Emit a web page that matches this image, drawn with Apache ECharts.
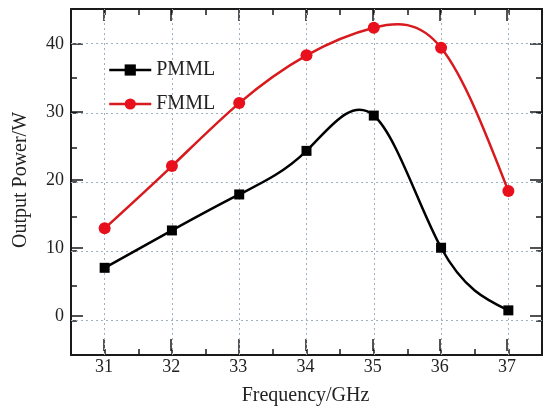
<!DOCTYPE html>
<html><head><meta charset="utf-8">
<script src="https://cdn.jsdelivr.net/npm/echarts@6/dist/echarts.min.js"></script>
<style>html,body{margin:0;padding:0;background:#fff}#c{width:544px;height:411px}</style>
</head><body><div id="c"></div>
<script>
var freqs = [31, 32, 33, 34, 35, 36, 37];
var pmml = [7.6, 13.0, 18.2, 24.5, 29.6, 10.5, 1.45];
var fmml = [13.3, 22.3, 31.4, 38.3, 42.3, 39.4, 18.7];
var yTicks = [0, 10, 20, 30, 40];

var FONT = 'Liberation Serif';
var RED = '#d81a1e';
function pairs(xs, ys){ return xs.map(function(x,i){ return [x, ys[i]]; }); }

// Natural cubic spline slopes (rendering helper: curve passes through data points)
function splineSlopes(xs, ys){
  var n = xs.length, M = new Array(n).fill(0);
  var a = [], b = [], c = [], d = [];
  for (var i = 1; i < n - 1; i++) {
    var h0 = xs[i] - xs[i-1], h1 = xs[i+1] - xs[i];
    a.push(h0); b.push(2*(h0+h1)); c.push(h1);
    d.push(6*((ys[i+1]-ys[i])/h1 - (ys[i]-ys[i-1])/h0));
  }
  var m = b.length;
  for (var k = 1; k < m; k++) { var w = a[k]/b[k-1]; b[k] -= w*c[k-1]; d[k] -= w*d[k-1]; }
  var sol = new Array(m);
  for (var k2 = m - 1; k2 >= 0; k2--) sol[k2] = (d[k2] - (k2 < m-1 ? c[k2]*sol[k2+1] : 0)) / b[k2];
  for (var j = 0; j < m; j++) M[j+1] = sol[j];
  var D = [];
  for (var i2 = 0; i2 < n - 1; i2++) {
    var h = xs[i2+1] - xs[i2];
    D.push((ys[i2+1]-ys[i2])/h - h*(2*M[i2] + M[i2+1])/6);
  }
  var hl = xs[n-1] - xs[n-2];
  D.push((ys[n-1]-ys[n-2])/hl + hl*(M[n-2] + 2*M[n-1])/6);
  return D;
}

function curveSeries(xs, ys, color){
  var D = splineSlopes(xs, ys);
  return {
    type:'custom', xAxisIndex:0, yAxisIndex:0, silent:true, z:2,
    data:[[xs[0], ys[0]]], clip:true,
    renderItem:function(params, api){
      var p0 = api.coord([xs[0], ys[0]]);
      var path = 'M' + p0[0] + ' ' + p0[1];
      for (var i = 0; i < xs.length - 1; i++) {
        var h = xs[i+1] - xs[i];
        var c1 = api.coord([xs[i] + h/3, ys[i] + D[i]*h/3]);
        var c2 = api.coord([xs[i+1] - h/3, ys[i+1] - D[i+1]*h/3]);
        var p1 = api.coord([xs[i+1], ys[i+1]]);
        path += ' C' + c1[0] + ' ' + c1[1] + ' ' + c2[0] + ' ' + c2[1] + ' ' + p1[0] + ' ' + p1[1];
      }
      return {type:'path', shape:{pathData:path},
        style:{fill:'none', stroke:color, lineWidth:2.5}};
    }
  };
}

var chart = echarts.init(document.getElementById('c'), null, {renderer:'canvas'});
var frameAxis = function(pos, min, max, interval){
  return {
    type:'value', gridIndex:0, position:pos, min:min, max:max, interval:interval,
    axisLine:{show:true, onZero:false, lineStyle:{color:'#1a1a1a', width:2}},
    axisTick:{show:true, inside:true, length:6, lineStyle:{color:'#1a1a1a', width:1.5}},
    axisLabel:{show:false}, splitLine:{show:false}
  };
};
var majorAxis = function(pos, min, max, interval, offset, showLabel, extra){
  var a = {
    type:'value', gridIndex:1, position:pos, min:min, max:max, interval:interval, offset:offset,
    axisLine:{show:false, onZero:false},
    axisTick:{show:true, inside:true, length:12, lineStyle:{color:'#1a1a1a', width:1.5}},
    axisLabel:{show:showLabel, fontFamily:FONT, fontSize:18, color:'#222', margin:7},
    splitLine:{show:false}
  };
  for (var k in extra) a[k] = extra[k];
  return a;
};
var gridMarks = freqs.map(function(f){ return {xAxis:f}; })
  .concat(yTicks.map(function(v){ return {yAxis:v}; }));

chart.setOption({
  animation:false,
  grid:[
    {left:71, right:2, top:9, bottom:56},
    {left:104, right:37, top:44, bottom:91}
  ],
  legend:{
    left:103, top:55, orient:'vertical', itemWidth:42, itemHeight:14, itemGap:14,
    textStyle:{fontFamily:FONT, fontSize:20, color:'#222'},
    data:[
      {name:'PMML', lineStyle:{color:'#000', width:2.5, opacity:1}},
      {name:'FMML', lineStyle:{color:RED, width:2.5, opacity:1}}
    ]
  },
  xAxis:[
    frameAxis('bottom', 30.5, 37.5, 0.5),
    frameAxis('top', 30.5, 37.5, 0.5),
    majorAxis('bottom', 31, 37, 1, 35, true, {name:'Frequency/GHz', nameLocation:'middle', nameGap:35,
      nameTextStyle:{fontFamily:FONT, fontSize:20, color:'#222'}}),
    majorAxis('top', 31, 37, 1, 35, false, {})
  ],
  yAxis:[
    frameAxis('left', -5, 45, 5),
    frameAxis('right', -5, 45, 5),
    majorAxis('left', 0, 40, 10, 33, true, {name:'Output Power/W', nameLocation:'middle', nameGap:40,
      nameRotate:90, nameTextStyle:{fontFamily:FONT, fontSize:20, color:'#222'}}),
    majorAxis('right', 0, 40, 10, 35, false, {})
  ],
  series:[
    {type:'line', xAxisIndex:0, yAxisIndex:0, data:[], silent:true, z:1,
      markLine:{silent:true, z:1, symbol:['none','none'], label:{show:false},
        lineStyle:{color:'#9fb0c2', width:1, type:[2,3]}, data:gridMarks}},
    curveSeries(freqs, pmml, '#000'),
    curveSeries(freqs, fmml, RED),
    {name:'PMML', type:'line', xAxisIndex:0, yAxisIndex:0, data:pairs(freqs, pmml),
      symbol:'rect', symbolSize:10, z:3,
      lineStyle:{color:'#000', width:2.5, opacity:0}, itemStyle:{color:'#000'}},
    {name:'FMML', type:'line', xAxisIndex:0, yAxisIndex:0, data:pairs(freqs, fmml),
      symbol:'circle', symbolSize:12, z:3,
      lineStyle:{color:RED, width:2.5, opacity:0}, itemStyle:{color:'#e8101c'}}
  ]
});
</script></body></html>
